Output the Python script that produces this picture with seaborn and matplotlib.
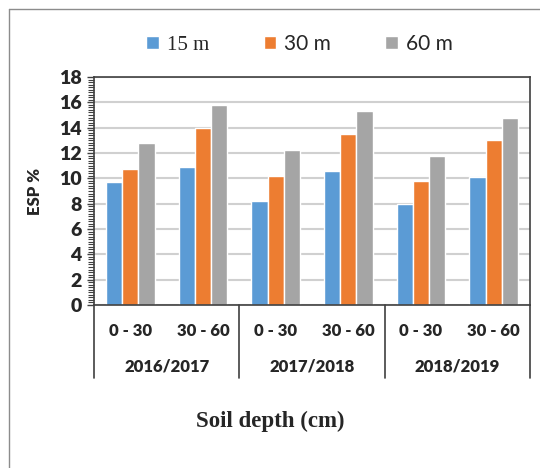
import numpy as np
import pandas as pd
import matplotlib
matplotlib.use("Agg")
import matplotlib.pyplot as plt
from matplotlib.lines import Line2D
from matplotlib.ticker import MultipleLocator
import seaborn as sns

# data
seasons = ["2016/2017", "2017/2018", "2018/2019"]
depths = ["0 - 30", "30 - 60"]
distances = ["15 m", "30 m", "60 m"]
esp_15 = [9.7, 10.9, 8.2, 10.6, 8.0, 10.1]
esp_30 = [10.7, 14.0, 10.2, 13.5, 9.8, 13.0]
esp_60 = [12.8, 15.8, 12.2, 15.3, 11.8, 14.8]
colors = ["#5B9BD5", "#ED7D31", "#A5A5A5"]

groups = [s + "|" + d for s in seasons for d in depths]
rows = []
for dist, vals in zip(distances, [esp_15, esp_30, esp_60]):
    for g, v in zip(groups, vals):
        rows.append({"group": g, "dist": dist, "esp": v})
df = pd.DataFrame(rows)

sns.set_style("white")
plt.rcParams["font.family"] = ["Lato", "DejaVu Sans"]

fig = plt.figure(figsize=(5.4, 4.68), dpi=100)
ax = fig.add_axes([94 / 540, 1 - 305 / 468, 436 / 540, 228 / 468])

sns.barplot(data=df, x="group", y="esp", hue="dist", order=groups,
            hue_order=distances, palette=colors, width=0.67,
            saturation=1, ax=ax, legend=True)

ax.set_ylim(0, 18)
ax.set_xlim(-0.5, 5.5)
ax.yaxis.set_major_locator(MultipleLocator(2))
ax.yaxis.set_minor_locator(MultipleLocator(0.2))
ax.grid(axis="y", color="#D0D0D0", lw=1.5)
ax.set_axisbelow(True)
for sp in ax.spines.values():
    sp.set_visible(True)
    sp.set_color("#404040")
    sp.set_linewidth(1.2)

ax.tick_params(axis="y", which="major", left=True, length=5, width=1,
               color="#404040", labelsize=14, pad=4)
ax.tick_params(axis="y", which="minor", left=True, length=4, width=0.8,
               color="#404040")
for t in ax.get_yticklabels():
    t.set_fontweight("heavy")

ax.set_xticks(range(len(groups)))
ax.set_xticklabels([g.split("|")[1] for g in groups], fontsize=12,
                   fontweight="heavy")
ax.tick_params(axis="x", length=0, pad=13)
ax.set_xlabel("")
ax.set_ylabel("ESP %", fontsize=12, fontweight="heavy", labelpad=11)

# second level of the category axis
trans = ax.get_xaxis_transform()
for b in [-0.5, 1.5, 3.5, 5.5]:
    ax.plot([b, b], [0, -0.32], transform=trans, color="#404040",
            lw=1.2, clip_on=False)
for i, s in enumerate(seasons):
    ax.text(2 * i + 0.5, -0.27, s, transform=trans, ha="center",
            va="center", fontsize=12, fontweight="heavy")

# legend
handles, labels = ax.get_legend_handles_labels()
ax.legend_.remove()
leg = fig.legend(handles, labels, loc="center", ncol=3,
                 bbox_to_anchor=(0.555, 1 - 44 / 468), frameon=False,
                 fontsize=15, handlelength=0.6, handleheight=0.6,
                 handletextpad=0.4, columnspacing=2.6)
leg.get_texts()[0].set_fontfamily("Liberation Serif")

fig.text(0.5, 1 - 421 / 468, "Soil depth (cm)", ha="center", va="center",
         fontsize=16.5, fontweight="bold", family="Liberation Serif")

# chart border (top and left visible)
fig.add_artist(Line2D([9 / 540, 1], [1 - 9 / 468, 1 - 9 / 468],
                      transform=fig.transFigure, color="#8C8C8C", lw=1))
fig.add_artist(Line2D([9 / 540, 9 / 540], [0, 1 - 9 / 468],
                      transform=fig.transFigure, color="#8C8C8C", lw=1))

fig.savefig("out.png", dpi=100)
